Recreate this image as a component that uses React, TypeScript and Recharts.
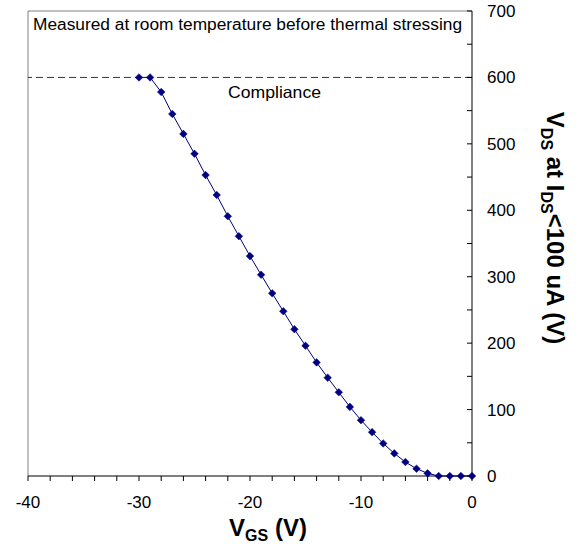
import React from 'react';
import { LineChart, Line, XAxis, YAxis, ReferenceLine } from 'recharts';

const vgs = [-30, -29, -28, -27, -26, -25, -24, -23, -22, -21, -20, -19, -18, -17, -16, -15, -14, -13, -12, -11, -10, -9, -8, -7, -6, -5, -4, -3, -2, -1, 0];
const vds = [600, 600, 578, 545, 515, 485, 453, 423, 391, 361, 331, 303, 275, 248, 221, 196, 171, 148, 126, 104, 84, 66, 49, 34, 21, 11, 4, 0, 0, 0, 0];

const xTicks = [-40, -38, -36, -34, -32, -30, -28, -26, -24, -22, -20, -18, -16, -14, -12, -10, -8, -6, -4, -2, 0];
const yTicks = [0, 50, 100, 150, 200, 250, 300, 350, 400, 450, 500, 550, 600, 650, 700];
const compliance = 600;
const noteText = 'Measured at room temperature before thermal stressing';
const complianceText = 'Compliance';

const data = vgs.map((x, i) => ({ x, y: vds[i] }));

const FONT = '"Liberation Sans", Arial, sans-serif';
const NAVY = '#000080';

const Diamond = (props: any) => {
  const { cx, cy, index } = props;
  if (cx == null || cy == null) return null;
  const r = 3.8;
  return (
    <path
      key={`d-${index}`}
      d={`M${cx},${cy - r}L${cx + r},${cy}L${cx},${cy + r}L${cx - r},${cy}Z`}
      fill={NAVY}
      stroke={NAVY}
      strokeWidth={0.5}
    />
  );
};

const XTitle = () => (
  <text x={268} y={536} textAnchor="middle" fontFamily={FONT} fontWeight="bold" fontSize={24} fill="#000">
    <tspan>V</tspan>
    <tspan fontSize={16} dy={5}>GS</tspan>
    <tspan dy={-5}> (V)</tspan>
  </text>
);

const YTitle = () => (
  <text
    transform="translate(547,228) rotate(90)"
    textAnchor="middle"
    fontFamily={FONT}
    fontWeight="bold"
    fontSize={24}
    fill="#000"
  >
    <tspan>V</tspan>
    <tspan fontSize={16} dy={6}>DS</tspan>
    <tspan dy={-6}> at I</tspan>
    <tspan fontSize={16} dy={6}>DS</tspan>
    <tspan dy={-6}>&lt;100 uA (V)</tspan>
  </text>
);

const Note = () => (
  <text x={33} y={30} fontFamily={FONT} fontSize={16} fill="#000" textLength={429} lengthAdjust="spacingAndGlyphs">
    {noteText}
  </text>
);

const ComplianceLabel = () => (
  <text x={228} y={98} fontFamily={FONT} fontSize={16.5} fill="#000" textLength={93} lengthAdjust="spacingAndGlyphs">
    {complianceText}
  </text>
);

export default function App() {
  return (
    <div style={{ position: 'absolute', left: 0, top: 0, width: 578, height: 544, background: '#fff' }}>
      <LineChart
        width={578}
        height={544}
        data={data}
        margin={{ top: 11, right: 0, left: 28, bottom: 0 }}
      >
        <XAxis
          type="number"
          dataKey="x"
          domain={[-40, 0]}
          ticks={xTicks}
          interval={0}
          height={68}
          tickSize={5}
          tickMargin={15}
          axisLine={{ stroke: '#000', strokeWidth: 1 }}
          tickLine={{ stroke: '#000', strokeWidth: 1 }}
          tick={{ fontFamily: FONT, fontSize: 17, fill: '#000' }}
          tickFormatter={(v: number) => (v % 10 === 0 ? String(v) : '')}
          label={{ content: () => <XTitle /> }}
        />
        <YAxis
          orientation="right"
          type="number"
          domain={[0, 700]}
          ticks={yTicks}
          interval={0}
          width={106}
          tickSize={-5}
          tickMargin={20}
          axisLine={{ stroke: '#000', strokeWidth: 1 }}
          tickLine={{ stroke: '#000', strokeWidth: 1 }}
          tick={{ fontFamily: FONT, fontSize: 17, fill: '#000', textAnchor: 'start' }}
          tickFormatter={(v: number) => (v % 100 === 0 ? String(v) : '')}
          label={{ content: () => <YTitle /> }}
        />
        <ReferenceLine x={-40} stroke="#808080" strokeWidth={1} />
        <ReferenceLine y={700} stroke="#808080" strokeWidth={1} label={{ content: () => <Note /> }} />
        <ReferenceLine
          y={compliance}
          stroke="#333"
          strokeWidth={1}
          strokeDasharray="7 4"
          label={{ content: () => <ComplianceLabel /> }}
        />
        <Line
          type="linear"
          dataKey="y"
          stroke={NAVY}
          strokeWidth={1}
          dot={Diamond}
          activeDot={false}
          isAnimationActive={false}
        />
      </LineChart>
    </div>
  );
}
